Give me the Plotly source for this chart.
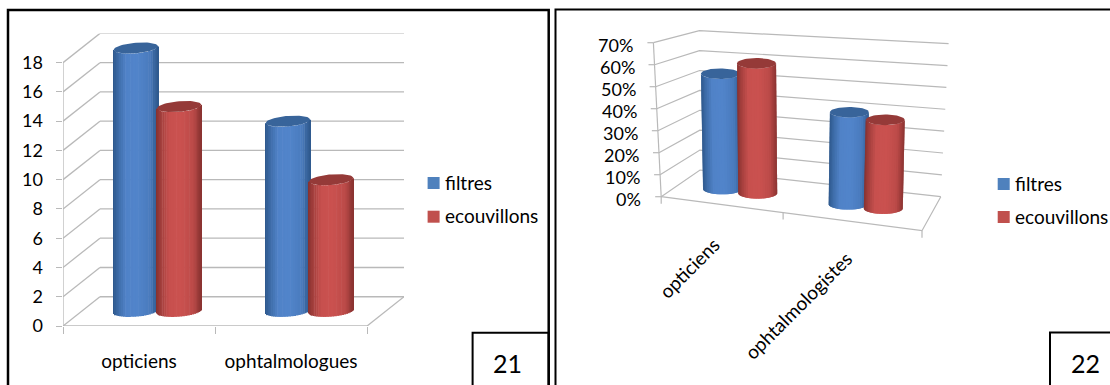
import numpy as np
import plotly.graph_objects as go

# Panel 21 data
left_categories = ["opticiens", "ophtalmologues"]
left_filtres = [18, 13]
left_ecouvillons = [14, 9]
left_ticks = [0, 2, 4, 6, 8, 10, 12, 14, 16, 18]

# Panel 22 data (percent)
right_categories = ["opticiens", "ophtalmologistes"]
right_filtres = [54, 41]
right_ecouvillons = [60, 39]
right_ticks = [0, 10, 20, 30, 40, 50, 60, 70]

series_names = ["filtres", "ecouvillons"]

FONT = "Lato"
TEXT = "#000000"
GRID = "#b9b9b9"

BLUE = {"dark": (46, 88, 140), "bright": (82, 133, 203), "cap": "#38649a", "key": "#4f81bd"}
RED = {"dark": (136, 50, 48), "bright": (203, 82, 80), "cap": "#953a38", "key": "#c0504d"}


def shade(p, palette):
    """Cylinder side colour at fraction p of its visible width."""
    k = np.interp(p, [0, 0.1, 0.28, 0.55, 0.82, 1], [0, 0.42, 0.95, 1, 0.78, 0.05])
    rgb = [int(d + (b - d) * k) for d, b in zip(palette["dark"], palette["bright"])]
    return "rgb({},{},{})".format(*rgb)


fig = go.Figure()
shapes = []

# ---- Panel 21: sheared depth on ordinary numeric axes ----
DX, DY = 0.243, 2.0  # shift of the back wall in axis units
RU, RD = 0.138, 0.19  # cylinder radius along the category and depth directions
GROUP_OFFSET = 0.1425


def line_shape(x0, y0, x1, y1, xref="x", yref="y", color=GRID, width=1.3):
    return dict(type="line", x0=x0, y0=y0, x1=x1, y1=y1, xref=xref, yref=yref,
                layer="below", line=dict(color=color, width=width))


for v in left_ticks:
    shapes.append(line_shape(0, v, DX, v + DY))
    shapes.append(line_shape(DX, v + DY, 2 + DX, v + DY))
shapes.append(line_shape(0, 0, 0, 18))
shapes.append(line_shape(0, 0, 2, 0))
shapes.append(line_shape(2, 0, 2 + DX, DY))

for i, (a, b) in enumerate(zip(left_filtres, left_ecouvillons)):
    for val, off, pal in ((a, -GROUP_OFFSET, BLUE), (b, GROUP_OFFSET, RED)):
        uc = i + 0.5 + off
        A, B = RU, RD * DX
        t0 = np.arctan2(B, A) + np.pi
        edges = np.linspace(t0, t0 + np.pi, 27)
        mids = (edges[:-1] + edges[1:]) / 2
        xs = uc + RU * np.cos(edges) + (0.5 + RD * np.sin(edges)) * DX
        xm = uc + RU * np.cos(mids) + (0.5 + RD * np.sin(mids)) * DX
        lo = (0.5 + RD * np.sin(mids)) * DY
        widths = np.diff(xs) * 1.25
        p = (xm - xs.min()) / (xs.max() - xs.min())
        fig.add_trace(go.Bar(x=xm, y=[val] * len(xm), base=lo, width=widths,
                             marker=dict(color=[shade(q, pal) for q in p], line_width=0),
                             showlegend=False, hoverinfo="skip", xaxis="x", yaxis="y"))
        tt = np.linspace(0, 2 * np.pi, 61)
        fig.add_trace(go.Scatter(x=uc + RU * np.cos(tt) + (0.5 + RD * np.sin(tt)) * DX,
                                 y=val + (0.5 + RD * np.sin(tt)) * DY,
                                 mode="lines", fill="toself", fillcolor=pal["cap"],
                                 line=dict(width=0), showlegend=False, hoverinfo="skip",
                                 xaxis="x", yaxis="y"))

# ---- Panel 22: perspective box projected onto a canvas-sized axis pair ----
# Corners of the plot box as (x, y) on the canvas axes, keyed by (category end, depth end, top).
CORNERS = {
    (0, 0, 0): (661.2, 196.7), (0, 0, 1): (653.4, 42.7),
    (0, 1, 0): (700.0, 170.0), (0, 1, 1): (699.4, 30.7),
    (1, 1, 0): (940.8, 196.7), (1, 1, 1): (948.6, 43.7),
    (1, 0, 0): (922.0, 230.7), (1, 0, 1): (925.0, 60.0),
}
R_MAX = 70.0
R_A, R_B = 19.5, 5.3  # on-screen half axes of the cylinder ends
R_DEPTH = 0.48
R_CENTER = 0.48
R_OFFSET = 0.14


def project(u, d, v):
    """Trilinear placement of (category position 0..2, depth 0..1, value)."""
    a, c = np.asarray(u, float) / 2, np.asarray(v, float) / R_MAX
    d = np.asarray(d, float)
    px = py = 0
    for (i, j, k), (cx, cy) in CORNERS.items():
        w = (a if i else 1 - a) * (d if j else 1 - d) * (c if k else 1 - c)
        px = px + w * cx
        py = py + w * cy
    return px, py


def add_line(points, color=GRID, width=1.2):
    xs, ys = project(*np.array(points, float).T)
    fig.add_trace(go.Scatter(x=xs, y=ys, mode="lines", line=dict(color=color, width=width),
                             showlegend=False, hoverinfo="skip", xaxis="x2", yaxis="y2"))


for v in right_ticks:
    add_line([(0, 0, v), (0, 1, v), (2, 1, v)])
add_line([(0, 0, 0), (0, 0, 70)])
add_line([(0, 0, 0), (2, 0, 0), (2, 1, 0)])
# The middle tick sits left of centre because the far end of the floor is foreshortened.
for u in (0, 0.935, 2):
    x0, y0 = project(u, 0, 0)
    fig.add_trace(go.Scatter(x=[x0, x0], y=[y0, y0 + 7], mode="lines",
                             line=dict(color=GRID, width=1.2), showlegend=False,
                             hoverinfo="skip", xaxis="x2", yaxis="y2"))
for v in right_ticks:
    x0, y0 = project(0, 0, v)
    fig.add_trace(go.Scatter(x=[x0 - 6, x0], y=[y0, y0], mode="lines",
                             line=dict(color=GRID, width=1.2), showlegend=False,
                             hoverinfo="skip", xaxis="x2", yaxis="y2"))

for i, (a, b) in enumerate(zip(right_filtres, right_ecouvillons)):
    for val, off, pal in ((a, -R_OFFSET, BLUE), (b, R_OFFSET, RED)):
        uc = i + R_CENTER + off
        bot_x, bot_y = project(uc, R_DEPTH, 0)
        top_x, top_y = project(uc, R_DEPTH, val)
        edges = np.linspace(np.pi, 2 * np.pi, 25)
        ex, ey = R_A * np.cos(edges), -R_B * np.sin(edges)
        for k in range(len(edges) - 1):
            p = (ex[k] + ex[k + 1] + 2 * R_A) / (4 * R_A)
            e = min(k + 2, len(edges) - 1)  # slight overlap hides seams between strips
            fig.add_trace(go.Scatter(
                x=[bot_x + ex[k], bot_x + ex[e], top_x + ex[e], top_x + ex[k], bot_x + ex[k]],
                y=[bot_y + ey[k], bot_y + ey[e], top_y + ey[e], top_y + ey[k], bot_y + ey[k]],
                mode="lines", fill="toself", fillcolor=shade(p, pal),
                line=dict(width=0), showlegend=False, hoverinfo="skip", xaxis="x2", yaxis="y2"))
        tt = np.linspace(0, 2 * np.pi, 61)
        fig.add_trace(go.Scatter(x=top_x + R_A * np.cos(tt), y=top_y + R_B * np.sin(tt),
                                 mode="lines", fill="toself", fillcolor=pal["cap"],
                                 line=dict(width=0), showlegend=False, hoverinfo="skip",
                                 xaxis="x2", yaxis="y2"))

annotations = []
for v in right_ticks:
    x0, y0 = project(0, 0, v)
    annotations.append(dict(x=x0, y=y0, xref="x2", yref="y2", text=f"{v}%", showarrow=False,
                            xanchor="right", yanchor="middle", xshift=-18, yshift=-2,
                            font=dict(family=FONT, size=18, color=TEXT)))
for u, label, sx, sy in ((0.5, right_categories[0], -37, 62), (1.5, right_categories[1], -59, 83)):
    x0, y0 = project(u, 0, 0)
    annotations.append(dict(x=x0, y=y0, xref="x2", yref="y2", text=label, showarrow=False,
                            textangle=-45, xanchor="center", yanchor="middle",
                            xshift=sx, yshift=-sy, font=dict(family=FONT, size=19, color=TEXT)))

# Colour keys and panel numbers
for x_key, x_text, rows in ((433.6, 442.6, (183, 216.7)), (1003.7, 1013, (184, 217))):
    for name, pal, y_key in zip(series_names, (BLUE, RED), rows):
        fig.add_trace(go.Scatter(x=[x_key], y=[y_key], mode="markers",
                                 marker=dict(symbol="square", size=12, color=pal["key"]),
                                 showlegend=False, hoverinfo="skip", xaxis="x2", yaxis="y2"))
        annotations.append(dict(x=x_text, y=y_key, xref="x2", yref="y2", text=name, showarrow=False,
                                xanchor="left", yanchor="middle", yshift=1,
                                font=dict(family=FONT, size=19, color=TEXT)))


def frame(x0, y0, x1, y1, width=2):
    return dict(type="rect", x0=x0, y0=y0, x1=x1, y1=y1, xref="x2", yref="y2", layer="above",
                line=dict(color="#000000", width=width), fillcolor="rgba(0,0,0,0)")


shapes += [frame(8, 10, 548.7, 400, 2.5), frame(472.6, 332.7, 548.7, 400),
           frame(555.5, 9.5, 1120, 400), frame(1050, 332.5, 1120, 400)]
for num, x_num in (("21", 507), ("22", 1085)):
    annotations.append(dict(x=x_num, y=363, xref="x2", yref="y2", text=num, showarrow=False,
                            font=dict(family=FONT, size=25, color="#000000")))

W, H = 1110, 385
fig.update_layout(
    width=W, height=H, margin=dict(l=0, r=0, t=0, b=0), paper_bgcolor="white",
    plot_bgcolor="rgba(0,0,0,0)", barmode="overlay", showlegend=False,
    shapes=shapes, annotations=annotations,
    xaxis=dict(domain=[63 / W, 404 / W], range=[0, 2 + DX], showgrid=False, zeroline=False,
               tickvals=[0.5, 1.5], ticktext=left_categories, ticks="", ticklabelstandoff=22,
               tickfont=dict(family=FONT, size=19, color=TEXT), automargin=False,
               minor=dict(tickvals=[0, 1, 2], ticks="outside", ticklen=7, tickcolor=GRID, tickwidth=1.3),
               anchor="y"),
    yaxis=dict(domain=[(H - 326) / H, (H - 33.4) / H], range=[0, 20], showgrid=False, zeroline=False,
               tickvals=left_ticks, ticks="outside", ticklen=6.5, tickcolor=GRID, tickwidth=1.3,
               automargin=False, ticklabelstandoff=9,
               tickfont=dict(family=FONT, size=18, color=TEXT), anchor="x"),
    xaxis2=dict(domain=[0, 1], range=[0, W], visible=False, anchor="y2", automargin=False),
    yaxis2=dict(domain=[0, 1], range=[H, 0], visible=False, anchor="x2", automargin=False),
)

fig.write_html("out.html")
